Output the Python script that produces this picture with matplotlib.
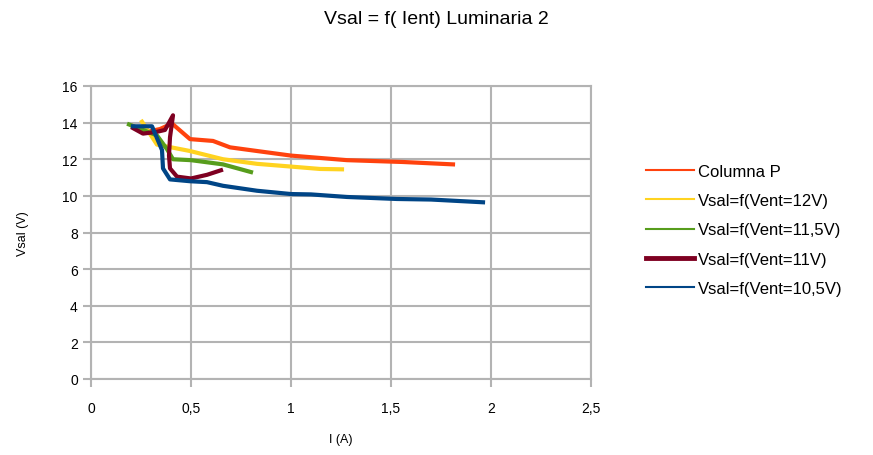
import matplotlib.pyplot as plt
from matplotlib.ticker import FuncFormatter

# corriente (A) y tension de salida (V)
i_col_p = [0.21, 0.28, 0.345, 0.405, 0.495, 0.61, 0.695, 0.83, 1.0, 1.28, 1.56, 1.81]
v_col_p = [13.8, 13.5, 13.65, 13.95, 13.1, 13.0, 12.65, 12.45, 12.2, 11.95, 11.85, 11.72]

i_12 = [0.255, 0.33, 0.495, 0.66, 0.83, 1.0, 1.145, 1.255]
v_12 = [14.05, 12.8, 12.45, 12.0, 11.75, 11.6, 11.47, 11.45]

i_115 = [0.19, 0.33, 0.38, 0.41, 0.5, 0.66, 0.8]
v_115 = [13.9, 13.3, 12.55, 12.0, 11.95, 11.72, 11.3]

i_11 = [0.21, 0.26, 0.33, 0.37, 0.41, 0.395, 0.39, 0.395, 0.43, 0.5, 0.58, 0.65]
v_11 = [13.7, 13.4, 13.5, 13.6, 14.4, 13.2, 12.2, 11.5, 11.05, 10.95, 11.15, 11.4]

i_105 = [0.21, 0.305, 0.355, 0.36, 0.395, 0.495, 0.58, 0.66, 0.83, 1.0, 1.1, 1.28, 1.53, 1.7, 1.96]
v_105 = [13.8, 13.8, 12.5, 11.5, 10.9, 10.8, 10.75, 10.55, 10.28, 10.1, 10.08, 9.94, 9.83, 9.8, 9.65]

labels = ['Columna P', 'Vsal=f(Vent=12V)', 'Vsal=f(Vent=11,5V)',
          'Vsal=f(Vent=11V)', 'Vsal=f(Vent=10,5V)']
colors = ['#ff420e', '#ffd320', '#579d1c', '#7e0021', '#004586']
series = [(i_col_p, v_col_p), (i_12, v_12), (i_115, v_115), (i_11, v_11), (i_105, v_105)]

plt.rcParams['font.family'] = ['Liberation Sans', 'DejaVu Sans']

fig = plt.figure(figsize=(8.73, 4.56), dpi=100)
ax = fig.add_axes([91 / 873, 76 / 456, 500 / 873, 293 / 456])

for (x, y), lab, c in zip(series, labels, colors):
    ax.plot(x, y, color=c, linewidth=3, label=lab, solid_joinstyle='round')

ax.set_xlim(0, 2.5)
ax.set_ylim(0, 16)
ax.set_xticks([0, 0.5, 1, 1.5, 2, 2.5])
ax.set_yticks(range(0, 17, 2))
ax.xaxis.set_major_formatter(FuncFormatter(lambda v, p: f'{v:g}'.replace('.', ',')))
ax.grid(True, color='#b3b3b3', linewidth=1.5)
ax.set_axisbelow(True)
for s in ax.spines.values():
    s.set_color('#b3b3b3')
    s.set_linewidth(1.5)
ax.tick_params(colors='#b3b3b3', labelcolor='black', length=6, width=1.5,
               labelsize=10)
ax.tick_params(axis='x', pad=10)

ax.set_xlabel('I (A)', fontsize=9, labelpad=13)
ax.set_ylabel('Vsal (V)', fontsize=9, labelpad=24)
fig.suptitle('Vsal = f( Ient) Luminaria 2', fontsize=14, y=0.975)

leg = ax.legend(loc='center left', bbox_to_anchor=(646 / 873, 1 - 231 / 456),
                bbox_transform=fig.transFigure, frameon=False, fontsize=12,
                handlelength=2.9, handletextpad=0.2, labelspacing=0.85,
                borderpad=0, borderaxespad=0)
for ln in leg.get_lines():
    ln.set_linewidth(1.5)
leg.get_lines()[3].set_linewidth(3.5)

fig.savefig('out.png', dpi=100)
